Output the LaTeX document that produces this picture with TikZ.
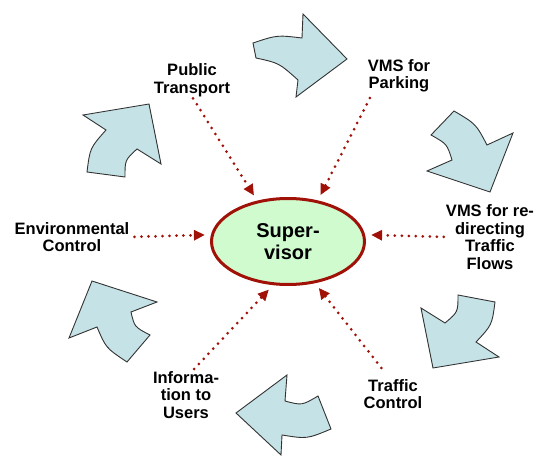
\documentclass[tikz,border=0pt]{standalone}
\usepackage{fontspec}
\setmainfont{Liberation Sans}
\usetikzlibrary{arrows.meta,shapes.geometric}
\definecolor{arrowfill}{HTML}{C5E2E6}
\definecolor{darkred}{HTML}{A01208}
\definecolor{supfill}{HTML}{CFFBCF}
\begin{document}
\begin{tikzpicture}[x=1pt,y=-1pt,
  bigarrow/.style={fill=arrowfill, draw=black!80, line width=0.9pt, line join=miter},
  lbl/.style={font=\bfseries\fontsize{16.5}{17.5}\selectfont, align=center, inner sep=0pt},
  conn/.style={draw=darkred, line width=3pt, dash pattern=on 0pt off 7pt, line cap=round,
    -{Triangle[length=11pt,width=10pt,fill=darkred]}, shorten >=6pt}]
\useasboundingbox (0,0) rectangle (536,457);

% big curved arrows
\draw[bigarrow] (253,43) .. controls (277,35) .. (302,38) -- (303,14) -- (347,59) -- (296,97) -- (298,80) .. controls (279,63) .. (256,58) -- cycle;
\draw[bigarrow] (87,172) .. controls (90,148) .. (106,130) -- (83,115) -- (149,104) -- (161,164) -- (137,149) .. controls (125,160) .. (125,177) -- cycle;
\draw[bigarrow] (454,111) .. controls (476,124) .. (487,145) -- (513,133) -- (490,192) -- (427,171) -- (452,160) .. controls (447,144) .. (431,135) -- cycle;
\draw[bigarrow] (458,295) -- (495,302) .. controls (492,325) .. (476,342) -- (499,357) -- (433,368) -- (421,308) -- (445,323) .. controls (458,312) .. (458,295) -- cycle;
\draw[bigarrow] (287,375) -- (285,401) .. controls (302,405.5) .. (318,396) -- (331,429) .. controls (307,439) .. (282,435) -- (281,455) -- (236,413) -- cycle;
\draw[bigarrow] (92,281) -- (157,302) -- (131,312) .. controls (134.5,327) .. (150,335) -- (127,362) .. controls (106,348) .. (97,327) -- (69,338) -- cycle;

% centre
\node[ellipse, draw=darkred, line width=3pt, fill=supfill, minimum width=153pt, minimum height=86pt,
  inner sep=0pt, font=\bfseries\fontsize{20}{22}\selectfont, align=center] (sup) at (288,241.5) {Super-\\visor};

% labels
\node[lbl] (pt) at (192,80) {Public\\Transport};
\node[lbl] (pk) at (399,76) {VMS for\\Parking};
\node[lbl] (rd) at (490,237) {VMS for re-\\directing\\Traffic\\Flows};
\node[lbl] (env) at (72,237) {Environmental\\Control};
\node[lbl] (tc) at (393,394) {Traffic\\Control};
\node[lbl] (inf) at (186,395) {Informa-\\tion to\\Users};

% dotted connectors
\draw[conn, shorten <=2pt] (pt.south) -- (sup.127);
\draw[conn, shorten <=6pt] ([xshift=5pt]pk.south west) -- (sup.54);
\draw[conn, shorten <=5pt] (env.east) -- (sup.175);
\draw[conn, shorten <=2pt] (rd.west) -- (sup.5);
\draw[conn, shorten <=3pt] ([xshift=6pt]inf.north) -- (sup.-109);
\draw[conn, shorten <=14pt] ([xshift=-3pt]tc.north) -- (sup.-57);
\end{tikzpicture}
\end{document}
